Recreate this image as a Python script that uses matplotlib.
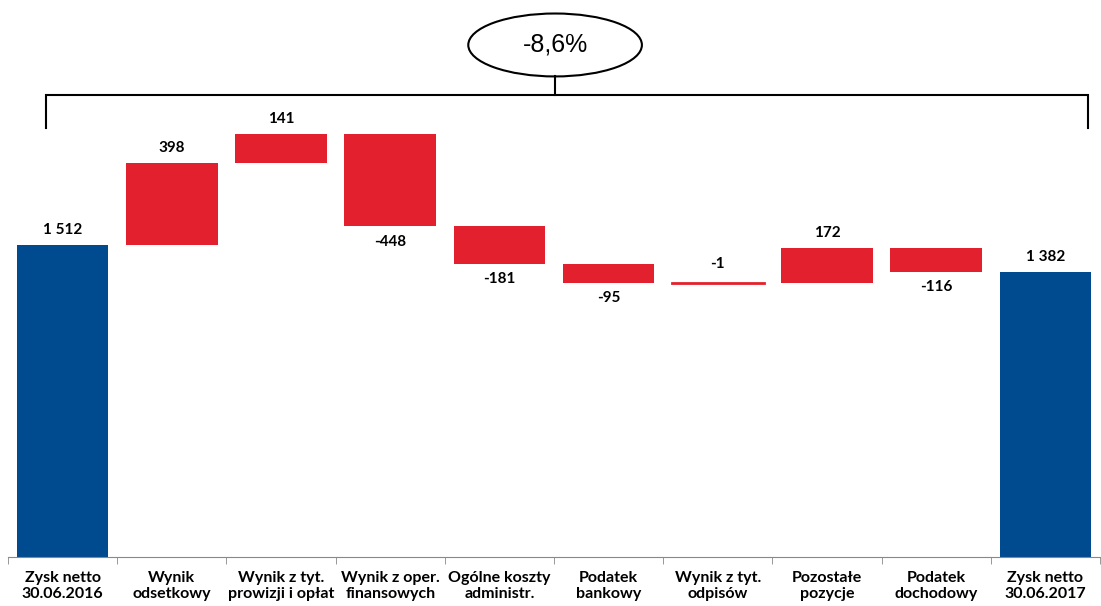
import matplotlib
matplotlib.use("Agg")
import matplotlib.pyplot as plt
from matplotlib.patches import Ellipse
import numpy as np

categories = ["Zysk netto\n30.06.2016", "Wynik\nodsetkowy", "Wynik z tyt.\nprowizji i opłat",
              "Wynik z oper.\nfinansowych", "Ogólne koszty\nadministr.", "Podatek\nbankowy",
              "Wynik z tyt.\nodpisów", "Pozostałe\npozycje", "Podatek\ndochodowy",
              "Zysk netto\n30.06.2017"]
start_total = 1512
changes = [398, 141, -448, -181, -95, -1, 172, -116]
end_total = 1382
change_pct = "-8,6%"

blue = "#004A8F"
red = "#E3212E"

def fmt(v):
    return f"{v:,}".replace(",", " ")

fig = plt.figure(figsize=(11.01, 6.06), dpi=100)
ax = fig.add_axes([8 / 1101, 49 / 606, 1092 / 1101, 557 / 606])
ax.set_xlim(-0.5, 9.5)
ax.set_ylim(0, 2700)

w = 0.84
lab_kw = dict(ha="center", fontsize=11, fontweight="bold", family="Lato")

# totals
ax.bar(0, start_total, width=w, color=blue)
ax.text(0, start_total + 40, fmt(start_total), va="bottom", **lab_kw)
ax.bar(9, end_total, width=w, color=blue)
ax.text(9, end_total + 40, fmt(end_total), va="bottom", **lab_kw)

# changes
level = start_total
for i, d in enumerate(changes, start=1):
    lo = min(level, level + d)
    h = abs(d)
    if h < 5:
        ax.plot([i - w / 2, i + w / 2], [level, level], color=red, lw=2)
    else:
        ax.bar(i, h, bottom=lo, width=w, color=red)
    if d > 0:
        ax.text(i, lo + h + 40, fmt(d), va="bottom", **lab_kw)
    elif h < 5:
        ax.text(i, level + 60, fmt(d), va="bottom", **lab_kw)
    else:
        ax.text(i, lo - 40, fmt(d), va="top", **lab_kw)
    level += d

# bracket + ellipse
by = 2239
ax.plot([-0.15, -0.15, 9.39, 9.39], [2079, by, by, 2079], color="black", lw=1.5,
        solid_joinstyle="miter")
ax.plot([4.51, 4.51], [by, 2330], color="black", lw=1.5)
ax.add_patch(Ellipse((4.51, 2482), 1.59, 305, facecolor="white", edgecolor="black", lw=1.5))
ax.text(4.51, 2482, change_pct, ha="center", va="center", fontsize=18,
        family="Liberation Sans")

# axes styling
for s in ["top", "right", "left"]:
    ax.spines[s].set_visible(False)
ax.spines["bottom"].set_color("#888888")
ax.set_yticks([])
ax.set_xticks(np.arange(10))
ax.set_xticklabels(categories, fontsize=11.5, fontweight="bold", family="Lato",
                   linespacing=1.15)
ax.tick_params(axis="x", which="major", length=0, pad=10)
ax.set_xticks(np.arange(-0.5, 10, 1), minor=True)
ax.tick_params(axis="x", which="minor", length=5, color="#888888")

fig.savefig("out.png", dpi=100)
